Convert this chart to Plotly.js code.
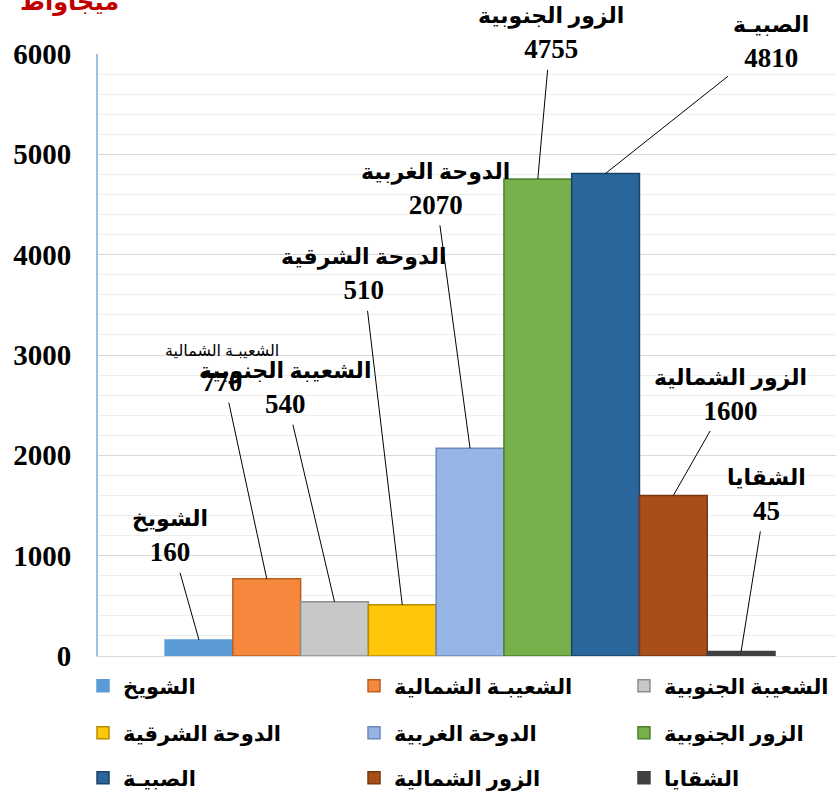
<!DOCTYPE html>
<html>
<head>
<meta charset="utf-8">
<script src="https://cdn.plot.ly/plotly-3.0.1.min.js"></script>
<style>
  html, body { margin: 0; padding: 0; background: #ffffff; }
  #chart { width: 836px; height: 798px; }
</style>
</head>
<body>
<div id="chart"></div>
<script>
// Station names (legend text) and capacity in MW
const stations = [
    'الشويخ',
    'الشعيبـة الشمالية',
    'الشعيبة الجنوبية',
    'الدوحة الشرقية',
    'الدوحة الغربية',
    'الزور الجنوبية',
    'الصبيـة',
    'الزور الشمالية',
    'الشقايا'
];
const capacity = [160, 770, 540, 510, 2070, 4755, 4810, 1600, 45];
const barColors = ['#5B9BD5', '#F5883D', '#C8C8C8', '#FFC60A', '#97B4E6', '#76B04A', '#2A659B', '#A84E18', '#404040'];
const lineColors = ['#5B9BD5', '#B85F22', '#8E8E8E', '#B88C00', '#6E88B8', '#4F7F30', '#1B4468', '#7A360E', '#404040'];
const yTicks = [0, 1000, 2000, 3000, 4000, 5000, 6000];
// label offsets from the bar top, in pixels
const labelDx = [-29, -45, -50, -39, -35, 13, 165, 57, 25];
const labelDy = [-103, -209, -213, -330, -259, -145, -131, -100, -156];
// legend grid: 3 columns x 3 rows
const legendCols = [-0.0203, 0.3469, 0.7127];
const legendRows = [-0.05, -0.128, -0.203];

const fontFamily = '"Times New Roman", "Liberation Serif", "DejaVu Sans", serif';

const legendIds = stations.map((s, i) => i === 0 ? 'legend' : 'legend' + (i + 1));

const traces = stations.map((name, i) => ({
    type: 'bar',
    name: name,
    x: [name],
    y: [capacity[i]],
    width: 1,
    marker: {
        color: barColors[i],
        line: { color: lineColors[i], width: 1.5 }
    },
    legend: legendIds[i],
    hoverinfo: 'skip'
}));

const annotations = stations.map((name, i) => {
    let nameSpan = '<span style="font-size:22px">' + name + '</span>';
    if (i === 1) {
        nameSpan = '<span style="font-size:16px;font-weight:normal">' + name + '</span>';
    }
    return {
        x: name,
        y: capacity[i],
        xref: 'x',
        yref: 'y',
        text: '<b>' + nameSpan + '<br>' + capacity[i] + '</b>',
        showarrow: true,
        arrowhead: 0,
        arrowwidth: 1,
        arrowcolor: '#000000',
        ax: labelDx[i],
        ay: labelDy[i],
        startstandoff: 4,
        font: { family: fontFamily, size: 27, color: '#000000' }
    };
});

// unit title, cut at the top as in the picture
annotations.push({
    xref: 'paper',
    yref: 'paper',
    x: -0.038,
    xanchor: 'center',
    y: 1,
    yanchor: 'bottom',
    yshift: 36,
    text: '<b>ميجاواط</b>',
    showarrow: false,
    font: { family: fontFamily, size: 24, color: '#C00000' }
});

const layout = {
    width: 836,
    height: 798,
    margin: { t: 54, r: 0, b: 142, l: 98, autoexpand: false },
    plot_bgcolor: '#ffffff',
    paper_bgcolor: '#ffffff',
    barmode: 'overlay',
    showlegend: true,
    font: { family: fontFamily },
    xaxis: {
        type: 'category',
        range: [-1.49, 9.4],
        showticklabels: false,
        showgrid: false,
        zeroline: false,
        showline: true,
        linecolor: '#D9D9D9',
        linewidth: 1,
        fixedrange: true
    },
    yaxis: {
        range: [0, 6000],
        tickvals: yTicks,
        ticktext: yTicks.map(String),
        showline: true,
        linecolor: '#9DC3E6',
        linewidth: 2,
        showgrid: true,
        gridcolor: '#D9D9D9',
        gridwidth: 1,
        zeroline: false,
        ticks: '',
        ticklabelstandoff: 19,
        tickfont: { family: fontFamily, size: 29, color: '#000000', weight: 'bold' },
        minor: { dtick: 200, showgrid: true, gridcolor: '#EEEEEE', gridwidth: 1 },
        fixedrange: true
    },
    annotations: annotations
};

// one small legend per entry so the 3x3 grid keeps the picture's spacing
legendIds.forEach((id, i) => {
    layout[id] = {
        orientation: 'h',
        x: legendCols[i % 3],
        xanchor: 'left',
        y: legendRows[Math.floor(i / 3)],
        yanchor: 'middle',
        itemwidth: 30,
        bgcolor: 'rgba(0,0,0,0)',
        font: { family: fontFamily, size: 21, color: '#000000', weight: 'bold' }
    };
});

Plotly.newPlot('chart', traces, layout, { displayModeBar: false, staticPlot: true });
</script>
</body>
</html>
